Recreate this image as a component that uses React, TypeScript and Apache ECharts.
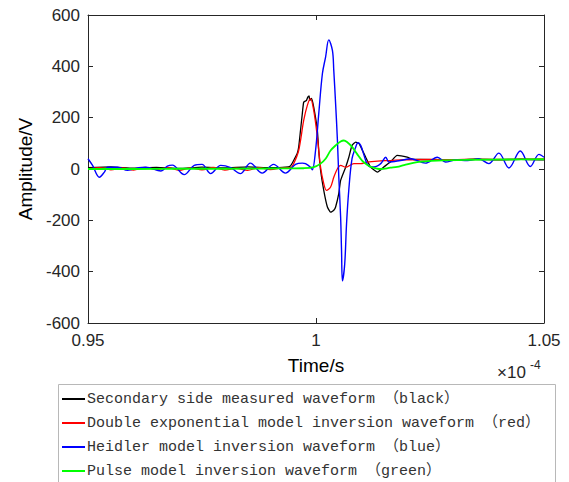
import React, { useEffect, useRef } from "react";
import * as echarts from "echarts";

// time in units of 1e-4 s, amplitude in V
const blackT = [0.95, 0.955, 0.96, 0.965, 0.97, 0.975, 0.98, 0.985, 0.99, 0.9933, 0.9944, 0.9951, 0.9959, 0.9962, 0.9966, 0.997, 0.9973, 0.9979, 0.9982, 0.9985, 0.9986, 0.999, 0.9995, 1.0003, 1.0006, 1.001, 1.0017, 1.0025, 1.0032, 1.0039, 1.0043, 1.005, 1.0054, 1.0065, 1.0072, 1.0079, 1.0087, 1.0094, 1.0102, 1.0109, 1.012, 1.0135, 1.0148, 1.0163, 1.0178, 1.02, 1.0214, 1.0229, 1.03, 1.035, 1.04, 1.045, 1.05];
const blackV = [5, 8, 3, 6, 2, 7, 4, 8, 5, 7, 12, 33, 61, 85, 150, 216, 260, 267, 280, 285, 267, 275, 241, 150, 72, -5, -83, -148, -168, -161, -148, -95, -44, 7, 46, 92, 105, 100, 72, 46, 7, -12, 7, 27, 53, 46, 37, 37, 35, 38, 36, 38, 36];

const redT = [0.95, 0.9525, 0.955, 0.9575, 0.96, 0.9625, 0.965, 0.9675, 0.97, 0.9725, 0.975, 0.9775, 0.98, 0.9825, 0.985, 0.9875, 0.99, 0.9925, 0.9944, 0.9951, 0.9962, 0.9973, 0.9981, 0.9988, 0.9995, 1.0003, 1.001, 1.0017, 1.0023, 1.0032, 1.0039, 1.0047, 1.0054, 1.0065, 1.0083, 1.0098, 1.0112, 1.0135, 1.0163, 1.0193, 1.025, 1.03, 1.035, 1.04, 1.045, 1.05];
const redV = [0, 5, -3, 4, -4, 6, -2, 5, -5, 4, -3, 6, -4, 3, -5, 5, -2, 4, 5, 21, 72, 189, 248, 274, 228, 124, 7, -57, -83, -70, -32, 1, 14, 7, 21, 21, 27, 31, 33, 36, 37, 36, 38, 37, 38, 39];

const blueT = [0.95, 0.951, 0.9525, 0.9536, 0.9543, 0.9565, 0.9587, 0.9611, 0.9627, 0.966, 0.9674, 0.9685, 0.9711, 0.9733, 0.975, 0.9769, 0.9791, 0.9813, 0.9834, 0.9856, 0.9882, 0.9907, 0.9933, 0.9955, 0.997, 0.9977, 0.9988, 0.9992, 0.9999, 1.0006, 1.0014, 1.0021, 1.0028, 1.0036, 1.0039, 1.0043, 1.0047, 1.005, 1.0054, 1.0056, 1.0058, 1.0063, 1.0067, 1.0072, 1.0079, 1.0087, 1.0092, 1.0098, 1.0105, 1.0112, 1.012, 1.0127, 1.0142, 1.0153, 1.016, 1.0185, 1.0207, 1.024, 1.0266, 1.0284, 1.0306, 1.0332, 1.0357, 1.0379, 1.0401, 1.0423, 1.0448, 1.047, 1.0489, 1.05];
const blueV = [40, 14, -32, -12, 7, 7, -5, 5, 7, -8, 11, 15, -22, 14, 18, -18, 14, 5, -18, 23, -16, 18, -16, 18, 23, 21, 7, -3, 72, 215, 371, 436, 503, 462, 384, 254, 111, -32, -187, -317, -436, -369, -213, -80, 40, 85, 102, 92, 55, 20, 8, 8, 21, 46, 27, 33, 40, 23, 46, 27, 35, 33, 40, 21, 62, 4, 70, 10, 57, 46];

const greenT = [0.95, 0.96, 0.97, 0.98, 0.99, 0.9973, 0.9995, 1.001, 1.0021, 1.0032, 1.0043, 1.0054, 1.0061, 1.0068, 1.0079, 1.009, 1.0101, 1.0112, 1.0123, 1.0135, 1.0142, 1.0163, 1.0178, 1.0193, 1.0222, 1.0266, 1.0339, 1.042, 1.05];
const greenV = [0, 0, 1, 1, 2, 3, 7, 21, 40, 72, 92, 107, 111, 105, 86, 59, 33, 17, 6, 1, 0, 5, 8, 15, 27, 33, 36, 37, 38];

const seriesNames = [
  "Secondary side measured waveform （black）",
  "Double exponential model inversion waveform （red）",
  "Heidler model inversion waveform （blue）",
  "Pulse model inversion waveform （green）",
];
const seriesColors = ["#000000", "#ff0000", "#0000ff", "#00ff00"];

const xTicks = [0.95, 1, 1.05];

const zip = (t: number[], v: number[]) => t.map((x, i) => [x, v[i]]);

const AXIS = "#262626";
const SANS = "'Liberation Sans', Arial, Helvetica, sans-serif";
const MONO = "'Liberation Mono', 'Noto Sans CJK SC', monospace";

export default function App() {
  const ref = useRef<HTMLDivElement>(null);
  useEffect(() => {
    if (!ref.current) return;
    const chart = echarts.init(ref.current, undefined, { renderer: "svg" });
    const dataSets = [zip(blackT, blackV), zip(redT, redV), zip(blueT, blueV), zip(greenT, greenV)];
    const widths = [1.3, 1.3, 1.4, 1.8];
    const smooths = [0.15, 0.3, 0.35, 0.35];
    const axisCommon = {
      axisLine: { show: true, onZero: false, lineStyle: { color: AXIS, width: 1 } },
      axisTick: { show: true, inside: true, length: 5, lineStyle: { color: AXIS } },
      splitLine: { show: false },
    };
    const legendTop = 384.5;
    const rowH = 24;
    const legendGraphics: any[] = [
      {
        type: "rect",
        shape: { x: 58.5, y: legendTop, width: 497, height: 120 },
        style: { fill: "#ffffff", stroke: "#b8b8b8", lineWidth: 1 },
        silent: true,
      },
    ];
    seriesNames.forEach((name, i) => {
      const cy = legendTop + 14.5 + rowH * i;
      legendGraphics.push({
        type: "line",
        shape: { x1: 62, y1: cy, x2: 85, y2: cy },
        style: { stroke: seriesColors[i], lineWidth: 2 },
        silent: true,
      });
      legendGraphics.push({
        type: "text",
        x: 87,
        y: cy,
        style: {
          text: name,
          fontSize: 15,
          fontFamily: MONO,
          fill: "#333333",
          verticalAlign: "middle",
          align: "left",
        },
        silent: true,
      });
    });
    chart.setOption({
      animation: false,
      backgroundColor: "#ffffff",
      grid: { left: 88, top: 15, width: 456, height: 308 },
      xAxis: [
        {
          type: "value",
          min: 0.95,
          max: 1.05,
          interval: 0.05,
          position: "bottom",
          ...axisCommon,
          axisLabel: {
            color: AXIS,
            fontSize: 17,
            fontFamily: SANS,
            margin: 9,
            formatter: (v: number) => {
              const r = Math.round(v * 100) / 100;
              return xTicks.includes(r) ? String(r) : "";
            },
          },
          name: "Time/s",
          nameLocation: "middle",
          nameGap: 33,
          nameTextStyle: { color: "#000", fontSize: 19, fontFamily: SANS },
        },
        {
          type: "value",
          min: 0.95,
          max: 1.05,
          interval: 0.05,
          position: "top",
          ...axisCommon,
          axisLabel: { show: false },
        },
      ],
      yAxis: [
        {
          type: "value",
          min: -600,
          max: 600,
          interval: 200,
          position: "left",
          ...axisCommon,
          axisLabel: { color: AXIS, fontSize: 17, fontFamily: SANS, margin: 8 },
          name: "Amplitude/V",
          nameLocation: "middle",
          nameGap: 48,
          nameTextStyle: { color: "#000", fontSize: 19, fontFamily: SANS },
        },
        {
          type: "value",
          min: -600,
          max: 600,
          interval: 200,
          position: "right",
          ...axisCommon,
          axisLabel: { show: false },
        },
      ],
      graphic: [
        {
          type: "text",
          left: 497,
          top: 364,
          style: { text: "×10", fontSize: 17, fontFamily: SANS, fill: AXIS },
        },
        {
          type: "text",
          left: 530,
          top: 359,
          style: { text: "-4", fontSize: 12, fontFamily: SANS, fill: AXIS },
        },
        ...legendGraphics,
      ],
      series: seriesNames.map((name, i) => ({
        name,
        type: "line",
        data: dataSets[i],
        showSymbol: false,
        symbol: "none",
        smooth: smooths[i],
        lineStyle: { color: seriesColors[i], width: widths[i] },
        itemStyle: { color: seriesColors[i] },
        z: 2 + i,
      })),
    });
    return () => chart.dispose();
  }, []);
  return (
    <div
      ref={ref}
      style={{ position: "fixed", left: 0, top: 0, width: 569, height: 482 }}
    />
  );
}
